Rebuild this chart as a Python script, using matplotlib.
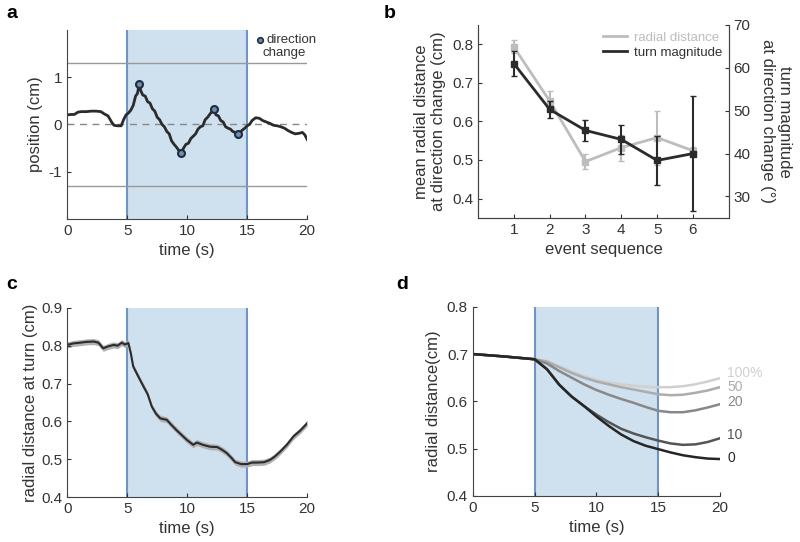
import numpy as np
import matplotlib
matplotlib.use("Agg")
import matplotlib.pyplot as plt

plt.rcParams["font.family"] = ["Liberation Sans", "DejaVu Sans"]
plt.rcParams["xtick.direction"] = "in"
plt.rcParams["ytick.direction"] = "in"
plt.rcParams["axes.unicode_minus"] = False

# ---- panel a: example trajectory ----
a_t = [0, 0.3, 0.6, 0.9, 1.2, 1.6, 2.0, 2.4, 2.8, 3.1,
       3.4, 3.7, 3.9, 4.2, 4.5, 4.7, 4.9, 5.1, 5.3, 5.5,
       5.7, 5.85, 6.0, 6.15, 6.3, 6.5, 6.7, 6.9, 7.1, 7.3,
       7.5, 7.7, 7.9, 8.1, 8.3, 8.5, 8.7, 8.9, 9.1, 9.3,
       9.5, 9.7, 9.9, 10.1, 10.3, 10.5, 10.7, 10.9, 11.1, 11.3,
       11.5, 11.7, 11.9, 12.2, 12.4, 12.6, 12.8, 13.0, 13.2, 13.4,
       13.6, 13.8, 14.0, 14.2, 14.4, 14.6, 14.8, 15.0, 15.2, 15.4,
       15.7, 16.0, 16.3, 16.6, 16.9, 17.2, 17.5, 17.8, 18.1, 18.4,
       18.7, 19.0, 19.3, 19.6, 19.8, 20.0]
a_pos = [0.20, 0.21, 0.21, 0.26, 0.27, 0.27, 0.28, 0.28, 0.27, 0.22,
         0.18, 0.05, -0.02, -0.03, -0.03, 0.10, 0.20, 0.24, 0.30, 0.40,
         0.60, 0.65, 0.85, 0.70, 0.62, 0.60, 0.48, 0.45, 0.33, 0.28,
         0.15, 0.10, 0.00, -0.05, -0.15, -0.20, -0.35, -0.42, -0.48, -0.55,
         -0.60, -0.50, -0.42, -0.40, -0.30, -0.25, -0.20, -0.10, -0.05, -0.03,
         0.10, 0.15, 0.22, 0.32, 0.20, 0.18, 0.08, 0.05, -0.05, -0.08,
         -0.10, -0.15, -0.17, -0.20, -0.17, -0.12, -0.08, -0.03, 0.00, 0.08,
         0.14, 0.13, 0.08, 0.05, 0.02, -0.02, -0.03, -0.05, -0.08, -0.13,
         -0.17, -0.20, -0.19, -0.17, -0.22, -0.32]
turn_t = [6.0, 9.5, 12.2, 14.2]
turn_pos = [0.85, -0.60, 0.32, -0.20]
boundary = 1.3

# ---- panel b: event sequence ----
events = [1, 2, 3, 4, 5, 6]
radial = [0.793, 0.653, 0.496, 0.532, 0.558, 0.524]
radial_err = [0.017, 0.026, 0.020, 0.034, 0.070, 0.010]
turn_mag = [61.0, 50.3, 45.4, 43.3, 38.4, 40.0]
turn_err = [3.0, 2.0, 2.5, 3.3, 5.8, 13.4]

# ---- panel c: radial distance at turn ----
c_t = [0, 0.5, 1.1, 1.6, 2.2, 2.6, 3.0, 3.4, 3.86, 4.2, 4.55, 4.8, 5.1,
       5.3, 5.5, 5.9, 6.36, 6.7, 7.05, 7.4, 7.75, 8.3, 8.7, 9.1, 9.5,
       9.97, 10.5, 10.8, 11.3, 11.9, 12.5, 12.9, 13.3, 13.7, 14.0, 14.5,
       15.0, 15.4, 15.8, 16.4, 16.9, 17.3, 17.75, 18.3, 18.85, 19.4, 20.0]
c_val = [0.802, 0.806, 0.808, 0.810, 0.811, 0.808, 0.793, 0.798, 0.802, 0.800,
         0.808, 0.803, 0.807, 0.780, 0.745, 0.720, 0.692, 0.672, 0.639, 0.620,
         0.608, 0.604, 0.590, 0.577, 0.565, 0.551, 0.538, 0.544, 0.538, 0.533,
         0.532, 0.525, 0.516, 0.503, 0.492, 0.487, 0.487, 0.491, 0.491, 0.492,
         0.498, 0.507, 0.520, 0.538, 0.560, 0.575, 0.595]
c_sem = 0.008

# ---- panel d: model simulations ----
d_t = [0, 2.5, 5, 6, 7, 8, 9, 10, 11, 12, 13, 14, 15, 16, 17, 18, 19, 20]
d_100 = [0.70, 0.695, 0.689, 0.685, 0.674, 0.663, 0.653, 0.645, 0.640, 0.636,
         0.633, 0.631, 0.630, 0.630, 0.632, 0.636, 0.642, 0.649]
d_50 = [0.70, 0.695, 0.689, 0.684, 0.672, 0.660, 0.650, 0.642, 0.636, 0.630,
        0.625, 0.620, 0.615, 0.613, 0.614, 0.618, 0.623, 0.630]
d_20 = [0.70, 0.695, 0.689, 0.680, 0.664, 0.650, 0.636, 0.624, 0.614, 0.605,
        0.597, 0.588, 0.580, 0.577, 0.577, 0.581, 0.587, 0.594]
d_10 = [0.70, 0.695, 0.689, 0.668, 0.635, 0.610, 0.590, 0.572, 0.556, 0.542,
        0.532, 0.524, 0.517, 0.511, 0.508, 0.509, 0.514, 0.522]
d_0 = [0.70, 0.695, 0.689, 0.668, 0.635, 0.610, 0.590, 0.568, 0.548, 0.530,
       0.516, 0.506, 0.499, 0.492, 0.486, 0.482, 0.479, 0.478]
d_labels = ["100%", "50", "20", "10", "0"]
d_label_y = [0.660, 0.631, 0.599, 0.529, 0.481]
d_colors = ["#d0d0d0", "#acacac", "#888888", "#555555", "#262626"]

txt = "#333333"
shade = "#cfe0ee"
edge = "#6f95c4"
plt.rcParams["text.color"] = txt
plt.rcParams["axes.labelcolor"] = txt
plt.rcParams["xtick.color"] = txt
plt.rcParams["ytick.color"] = txt
plt.rcParams["axes.edgecolor"] = "#444444"

fig = plt.figure(figsize=(8, 5.42), dpi=100)


def stim(ax, top):
    ax.axvspan(5, 15, color=shade, lw=0, zorder=0)
    ax.plot([5, 5], [ax.get_ylim()[0], top], color=edge, lw=1.5, zorder=1)
    ax.plot([15, 15], [ax.get_ylim()[0], top], color=edge, lw=1.5, zorder=1)


def clean(ax):
    ax.spines["top"].set_visible(False)
    ax.spines["right"].set_visible(False)
    ax.tick_params(labelsize=11, length=3)


# a
ax = fig.add_axes([0.084, 0.596, 0.300, 0.349])
ax.set_xlim(0, 20)
ax.set_ylim(-2, 2)
stim(ax, 2)
ax.axhline(boundary, color="#999999", lw=1)
ax.axhline(-boundary, color="#999999", lw=1)
ax.axhline(0, color="#888888", lw=1, ls=(0, (5, 4)))
ax.plot(a_t, a_pos, color="#2b2b2b", lw=2)
ax.plot(turn_t, turn_pos, "o", ms=5, mfc="#6f8fb0", mec="#1f2d40", mew=1.5)
ax.plot([16.1], [1.78], "o", ms=4, mfc="#6f8fb0", mec="#1f2d40", mew=1.2)
ax.text(16.6, 1.78, "direction", fontsize=9.5, va="center", ha="left")
ax.text(19.9, 1.5, "change", fontsize=9.5, va="center", ha="right")
ax.set_xticks([0, 5, 10, 15, 20])
ax.set_yticks([-1, 0, 1])
ax.set_xlabel("time (s)", fontsize=12)
ax.set_ylabel("position (cm)", fontsize=12)
clean(ax)

# b
ax = fig.add_axes([0.5975, 0.598, 0.3135, 0.356])
ax2 = ax.twinx()
ax.set_xlim(0, 7)
ax.set_ylim(0.35, 0.85)
ax2.set_ylim(25, 70)
ax.errorbar(events, radial, yerr=radial_err, color="#bdbdbd", lw=2,
            marker="s", ms=4, capsize=2, elinewidth=1.5, label="radial distance")
ax2.errorbar(events, turn_mag, yerr=turn_err, color="#2b2b2b", lw=2,
             marker="s", ms=4, capsize=2, elinewidth=1.5, label="turn magnitude")
h1, = ax2.plot([], [], color="#bdbdbd", lw=2)
h2, = ax2.plot([], [], color="#2b2b2b", lw=2)
leg = ax2.legend([h1, h2], ["radial distance", "turn magnitude"], loc="upper right",
                 frameon=False, fontsize=9.5, handlelength=1.8,
                 borderaxespad=0.1, handletextpad=0.5, labelspacing=0.2)
leg.get_texts()[0].set_color("#bdbdbd")
ax.set_xticks(events)
ax.set_yticks([0.4, 0.5, 0.6, 0.7, 0.8])
ax2.set_yticks([30, 40, 50, 60, 70])
ax.set_xlabel("event sequence", fontsize=12)
ax.set_ylabel("mean radial distance\nat direction change (cm)", fontsize=12)
ax2.set_ylabel("turn magnitude\nat direction change (°)", fontsize=12,
               rotation=270, labelpad=30)
for a_ in (ax, ax2):
    a_.spines["top"].set_visible(False)
    a_.tick_params(labelsize=11, length=3)

# c
ax = fig.add_axes([0.084, 0.083, 0.300, 0.349])
ax.set_xlim(0, 20)
ax.set_ylim(0.4, 0.9)
stim(ax, 0.9)
c_arr = np.array(c_val)
ax.fill_between(c_t, c_arr - c_sem, c_arr + c_sem, color="#b0b0b0", lw=0)
ax.plot(c_t, c_val, color="#2b2b2b", lw=1.5)
ax.set_xticks([0, 5, 10, 15, 20])
ax.set_yticks([0.4, 0.5, 0.6, 0.7, 0.8, 0.9])
ax.set_xlabel("time (s)", fontsize=12)
ax.set_ylabel("radial distance at turn (cm)", fontsize=12, labelpad=2)
clean(ax)

# d
ax = fig.add_axes([0.591, 0.085, 0.309, 0.349])
ax.set_xlim(0, 20)
ax.set_ylim(0.4, 0.8)
stim(ax, 0.8)
for ys, col, lab, ly in zip([d_100, d_50, d_20, d_10, d_0], d_colors,
                            d_labels, d_label_y):
    ax.plot(d_t, ys, color=col, lw=1.8)
    ax.text(20.6, ly, lab, color=col, fontsize=10, va="center", ha="left",
            clip_on=False)
ax.set_xticks([0, 5, 10, 15, 20])
ax.set_yticks([0.4, 0.5, 0.6, 0.7, 0.8])
ax.set_xlabel("time (s)", fontsize=12)
ax.set_ylabel("radial distance(cm)", fontsize=12)
clean(ax)

for lab, x, y in [("a", 0.008, 0.975), ("b", 0.48, 0.975),
                  ("c", 0.008, 0.475), ("d", 0.495, 0.475)]:
    fig.text(x, y, lab, fontsize=14, fontweight="bold", color="black",
             va="center", ha="left")

fig.savefig("out.png", dpi=100)
